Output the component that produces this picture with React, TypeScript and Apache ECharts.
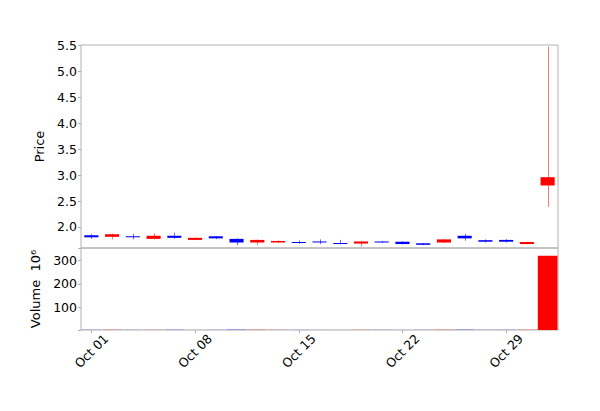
import React, { useEffect, useRef } from "react";
import * as echarts from "echarts";

const dates = [
  "2018-10-01", "2018-10-02", "2018-10-03", "2018-10-04", "2018-10-05",
  "2018-10-08", "2018-10-09", "2018-10-10", "2018-10-11", "2018-10-12",
  "2018-10-15", "2018-10-16", "2018-10-17", "2018-10-18", "2018-10-19",
  "2018-10-22", "2018-10-23", "2018-10-24", "2018-10-25", "2018-10-26",
  "2018-10-29", "2018-10-30", "2018-10-31",
];
const tickLabels: Record<string, string> = {
  "2018-10-01": "Oct 01",
  "2018-10-08": "Oct 08",
  "2018-10-15": "Oct 15",
  "2018-10-22": "Oct 22",
  "2018-10-29": "Oct 29",
};
const opens = [1.8, 1.86, 1.8, 1.83, 1.79, 1.79, 1.78, 1.7, 1.75, 1.73, 1.69, 1.71, 1.68, 1.72, 1.7, 1.67, 1.655, 1.76, 1.78, 1.715, 1.715, 1.71, 2.96];
const closes = [1.84, 1.81, 1.82, 1.77, 1.83, 1.75, 1.82, 1.77, 1.7, 1.7, 1.71, 1.72, 1.69, 1.68, 1.72, 1.715, 1.685, 1.7, 1.83, 1.745, 1.75, 1.67, 2.8];
const lows = [1.77, 1.76, 1.76, 1.76, 1.77, 1.745, 1.765, 1.65, 1.65, 1.69, 1.67, 1.67, 1.665, 1.62, 1.69, 1.665, 1.65, 1.69, 1.735, 1.7, 1.7, 1.665, 2.39];
const highs = [1.86, 1.87, 1.865, 1.88, 1.89, 1.795, 1.825, 1.78, 1.76, 1.74, 1.74, 1.76, 1.75, 1.73, 1.725, 1.72, 1.69, 1.77, 1.865, 1.76, 1.765, 1.715, 5.48];
const volumes = [3.6, 3.9, 3.4, 3.5, 3.8, 3.3, 3.4, 4.2, 4.0, 3.6, 3.4, 3.3, 3.2, 3.7, 3.4, 3.3, 3.5, 3.9, 4.1, 3.5, 3.6, 3.8, 320];

const UP = "#0000ff";
const DOWN = "#ff0000";
const UP_WICK = "#6a6aff";
const DOWN_WICK = "#ff7a7a";
const FONT = "DejaVu Sans";

export default function App() {
  const ref = useRef<HTMLDivElement>(null);
  useEffect(() => {
    if (!ref.current) return;
    const chart = echarts.init(ref.current, undefined, { renderer: "svg" });
    const candleData = dates.map((_, i) => [i, opens[i], closes[i], lows[i], highs[i]]);
    const volData = volumes.map((v, i) => ({
      value: v,
      itemStyle: { color: closes[i] >= opens[i] ? UP : DOWN },
    }));
    const tickInterval = (i: number, v: string) => !!tickLabels[v];
    const renderCandle = (params: any, api: any) => {
      const i = api.value(0);
      const o = api.value(1);
      const c = api.value(2);
      const lo = api.value(3);
      const hi = api.value(4);
      const up = c >= o;
      const col = up ? UP : DOWN;
      const pO = api.coord([i, o]);
      const pC = api.coord([i, c]);
      const pL = api.coord([i, lo]);
      const pH = api.coord([i, hi]);
      const w = api.size([1, 0])[0] * 0.68;
      const top = Math.min(pO[1], pC[1]);
      const h = Math.max(Math.abs(pO[1] - pC[1]), 1);
      const xw = Math.round(pO[0]) + 0.5;
      return {
        type: "group",
        children: [
          {
            type: "line",
            shape: { x1: xw, y1: pL[1], x2: xw, y2: pH[1] },
            style: { stroke: up ? UP_WICK : DOWN_WICK, lineWidth: 1 },
          },
          {
            type: "rect",
            shape: { x: pO[0] - w / 2, y: top, width: w, height: h },
            style: { fill: col, stroke: null },
          },
        ],
      };
    };
    chart.setOption({
      animation: false,
      backgroundColor: "#ffffff",
      textStyle: { fontFamily: FONT },
      grid: [
        { left: 81, width: 477, top: 45, height: 203, show: true, borderColor: "#b0b0b0", borderWidth: 1, backgroundColor: "transparent" },
        { left: 81, width: 477, top: 248, height: 82, show: true, borderColor: "#b0b0b0", borderWidth: 1, backgroundColor: "transparent" },
      ],
      xAxis: [
        {
          type: "category", gridIndex: 0, data: dates, boundaryGap: true,
          axisLine: { show: false }, axisTick: { show: false }, axisLabel: { show: false },
          splitLine: { show: false },
        },
        {
          type: "category", gridIndex: 1, data: dates, boundaryGap: true,
          axisLine: { show: false },
          axisTick: { show: true, alignWithLabel: true, interval: tickInterval, length: 3, lineStyle: { color: "#b0b0b0" } },
          axisLabel: {
            interval: tickInterval,
            formatter: (v: string) => tickLabels[v] || "",
            rotate: 45, align: "center", verticalAlign: "middle", margin: 21,
            fontFamily: FONT, fontSize: 12.5, color: "#000000",
          },
          splitLine: { show: false },
        },
      ],
      yAxis: [
        {
          type: "value", gridIndex: 0, min: 1.594, max: 5.51, splitNumber: 8, minInterval: 0.5, maxInterval: 0.5,
          name: "Price", nameLocation: "middle", nameGap: 26,
          nameTextStyle: { fontFamily: FONT, fontSize: 13, color: "#000000" },
          axisLine: { show: false },
          axisTick: { show: true, length: 3, lineStyle: { color: "#b0b0b0" } },
          axisLabel: {
            margin: 4, fontFamily: FONT, fontSize: 12.5, color: "#000000",
            showMinLabel: false, showMaxLabel: true,
            formatter: (v: number) => (Math.abs(v * 2 - Math.round(v * 2)) < 1e-6 ? v.toFixed(1) : ""),
          },
          splitLine: { show: false },
        },
        {
          type: "value", gridIndex: 1, min: 3, max: 353, splitNumber: 4, minInterval: 100, maxInterval: 100,
          name: "Volume  10⁶", nameLocation: "middle", nameGap: 26,
          nameTextStyle: { fontFamily: FONT, fontSize: 13, color: "#000000" },
          axisLine: { show: false },
          axisTick: { show: true, length: 3, lineStyle: { color: "#b0b0b0" } },
          axisLabel: {
            margin: 4, fontFamily: FONT, fontSize: 12.5, color: "#000000",
            formatter: (v: number) => (Math.abs(v / 100 - Math.round(v / 100)) < 1e-6 && v > 0 ? String(v) : ""),
          },
          splitLine: { show: false },
        },
      ],
      series: [
        {
          type: "custom", xAxisIndex: 0, yAxisIndex: 0, data: candleData,
          encode: { x: 0, y: [1, 2, 3, 4] },
          renderItem: renderCandle,
        },
        {
          type: "bar", xAxisIndex: 1, yAxisIndex: 1, data: volData, barWidth: "95%",
        },
      ],
    });
    return () => chart.dispose();
  }, []);
  return <div ref={ref} style={{ position: "fixed", left: 0, top: 0, width: 600, height: 411 }} />;
}
